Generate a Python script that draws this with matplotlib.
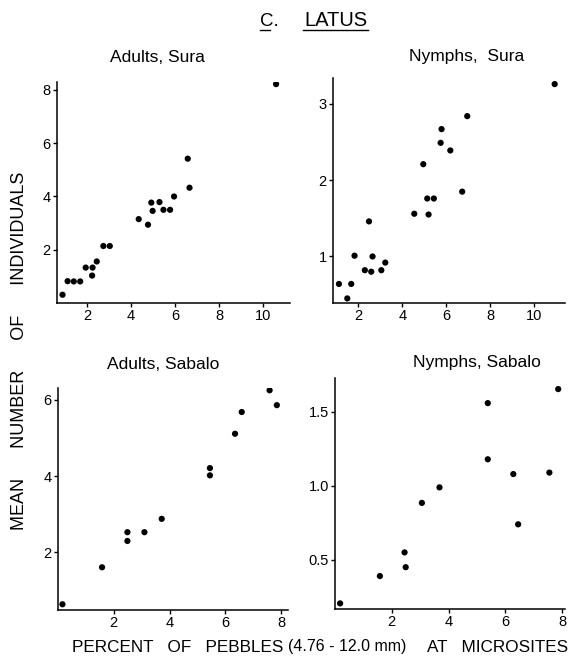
import matplotlib
matplotlib.use("Agg")
import matplotlib.pyplot as plt
from matplotlib.lines import Line2D

plt.rcParams['font.family'] = ['Liberation Sans', 'DejaVu Sans']

# percent pebbles vs. mean number of individuals
adults_sura_x = [0.90, 1.13, 1.41, 1.70, 1.95, 2.26, 2.24, 2.45, 2.75, 3.04, 4.35,
                 4.77, 4.92, 4.98, 5.29, 5.47, 5.77, 5.95, 6.57, 6.65, 10.57]
adults_sura_y = [0.31, 0.82, 0.81, 0.81, 1.33, 1.33, 1.03, 1.56, 2.14, 2.14, 3.15,
                 2.94, 3.77, 3.46, 3.79, 3.50, 3.50, 4.00, 5.42, 4.33, 8.22]

nymphs_sura_x = [1.11, 1.49, 1.67, 1.82, 2.29, 2.48, 2.58, 2.64, 3.04, 3.22, 4.54,
                 4.95, 5.13, 5.19, 5.43, 5.74, 5.78, 6.18, 6.72, 6.95, 10.93]
nymphs_sura_y = [0.64, 0.45, 0.64, 1.01, 0.82, 1.46, 0.80, 1.00, 0.82, 0.92, 1.56,
                 2.21, 1.76, 1.55, 1.76, 2.49, 2.67, 2.39, 1.85, 2.84, 3.26]

adults_sabalo_x = [0.16, 1.58, 2.49, 2.49, 3.10, 3.72, 5.45, 5.45, 6.35, 6.59, 7.59, 7.85]
adults_sabalo_y = [0.64, 1.61, 2.53, 2.30, 2.53, 2.88, 4.21, 4.02, 5.11, 5.68, 6.25, 5.86]

nymphs_sabalo_x = [0.18, 1.58, 2.45, 2.49, 3.06, 3.68, 5.38, 5.38, 6.28, 6.45, 7.55, 7.86]
nymphs_sabalo_y = [0.205, 0.39, 0.55, 0.45, 0.885, 0.99, 1.56, 1.18, 1.08, 0.74, 1.09, 1.655]

W, H = 579, 658
fig = plt.figure(figsize=(W / 100, H / 100), dpi=100)


def box(left, top, right, bottom):
    return [left / W, 1 - bottom / H, (right - left) / W, (bottom - top) / H]


panels = [
    (box(57, 82, 290, 303), adults_sura_x, adults_sura_y, "Adults, Sura",
     (0.65, 11.2), (0.0, 8.3), [2, 4, 6, 8, 10], [2, 4, 6, 8], (157, 57)),
    (box(333, 78, 565, 303), nymphs_sura_x, nymphs_sura_y, "Nymphs,  Sura",
     (0.84, 11.4), (0.39, 3.34), [2, 4, 6, 8, 10], [1, 2, 3], (467, 57)),
    (box(58, 388, 288, 610), adults_sabalo_x, adults_sabalo_y, "Adults, Sabalo",
     (0.0, 8.25), (0.49, 6.31), [2, 4, 6, 8], [2, 4, 6], (163, 365)),
    (box(335, 378, 565, 609), nymphs_sabalo_x, nymphs_sabalo_y, "Nymphs, Sabalo",
     (0.0, 8.1), (0.167, 1.73), [2, 4, 6, 8], [0.5, 1.0, 1.5], (477, 363)),
]

for pos, xs, ys, title, xlim, ylim, xt, yt, tpos in panels:
    ax = fig.add_axes(pos)
    ax.scatter(xs, ys, s=20, color='black', edgecolors='none', zorder=3)
    ax.set_xlim(*xlim)
    ax.set_ylim(*ylim)
    ax.set_xticks(xt)
    ax.set_yticks(yt)
    if isinstance(yt[0], float):
        ax.set_yticklabels(["%.1f" % v for v in yt])
    for s in ['top', 'right']:
        ax.spines[s].set_visible(False)
    for s in ['left', 'bottom']:
        ax.spines[s].set_linewidth(1.1)
    ax.tick_params(direction='out', length=3, width=1, labelsize=10.5, pad=1.5)
    fig.text(tpos[0] / W, 1 - tpos[1] / H, title, ha='center', va='center',
             fontsize=12.5)

# heading with underlines
fig.text(260 / W, 1 - 21 / H, "C.", ha='left', va='center', fontsize=13.5)
fig.text(335.5 / W, 1 - 21 / H, "LATUS", ha='center', va='center', fontsize=14.5)
fig.add_artist(Line2D([260 / W, 270 / W], [1 - 30 / H, 1 - 30 / H], color='black', lw=1))
fig.add_artist(Line2D([303 / W, 368 / W], [1 - 30 / H, 1 - 30 / H], color='black', lw=1))

# axis labels
fig.text(20 / W, 1 - 351 / H, "MEAN      NUMBER      OF      INDIVIDUALS", rotation=90,
         ha='center', va='center', fontsize=13)
fig.text(72 / W, 1 - 648 / H, "PERCENT   OF   PEBBLES", ha='left', va='center',
         fontsize=12.3)
fig.text(288 / W, 1 - 647 / H, "(4.76 - 12.0 mm)", ha='left', va='center',
         fontsize=11.5)
fig.text(568 / W, 1 - 648 / H, "AT   MICROSITES", ha='right', va='center',
         fontsize=12.3)

fig.savefig('out.png', dpi=100)
